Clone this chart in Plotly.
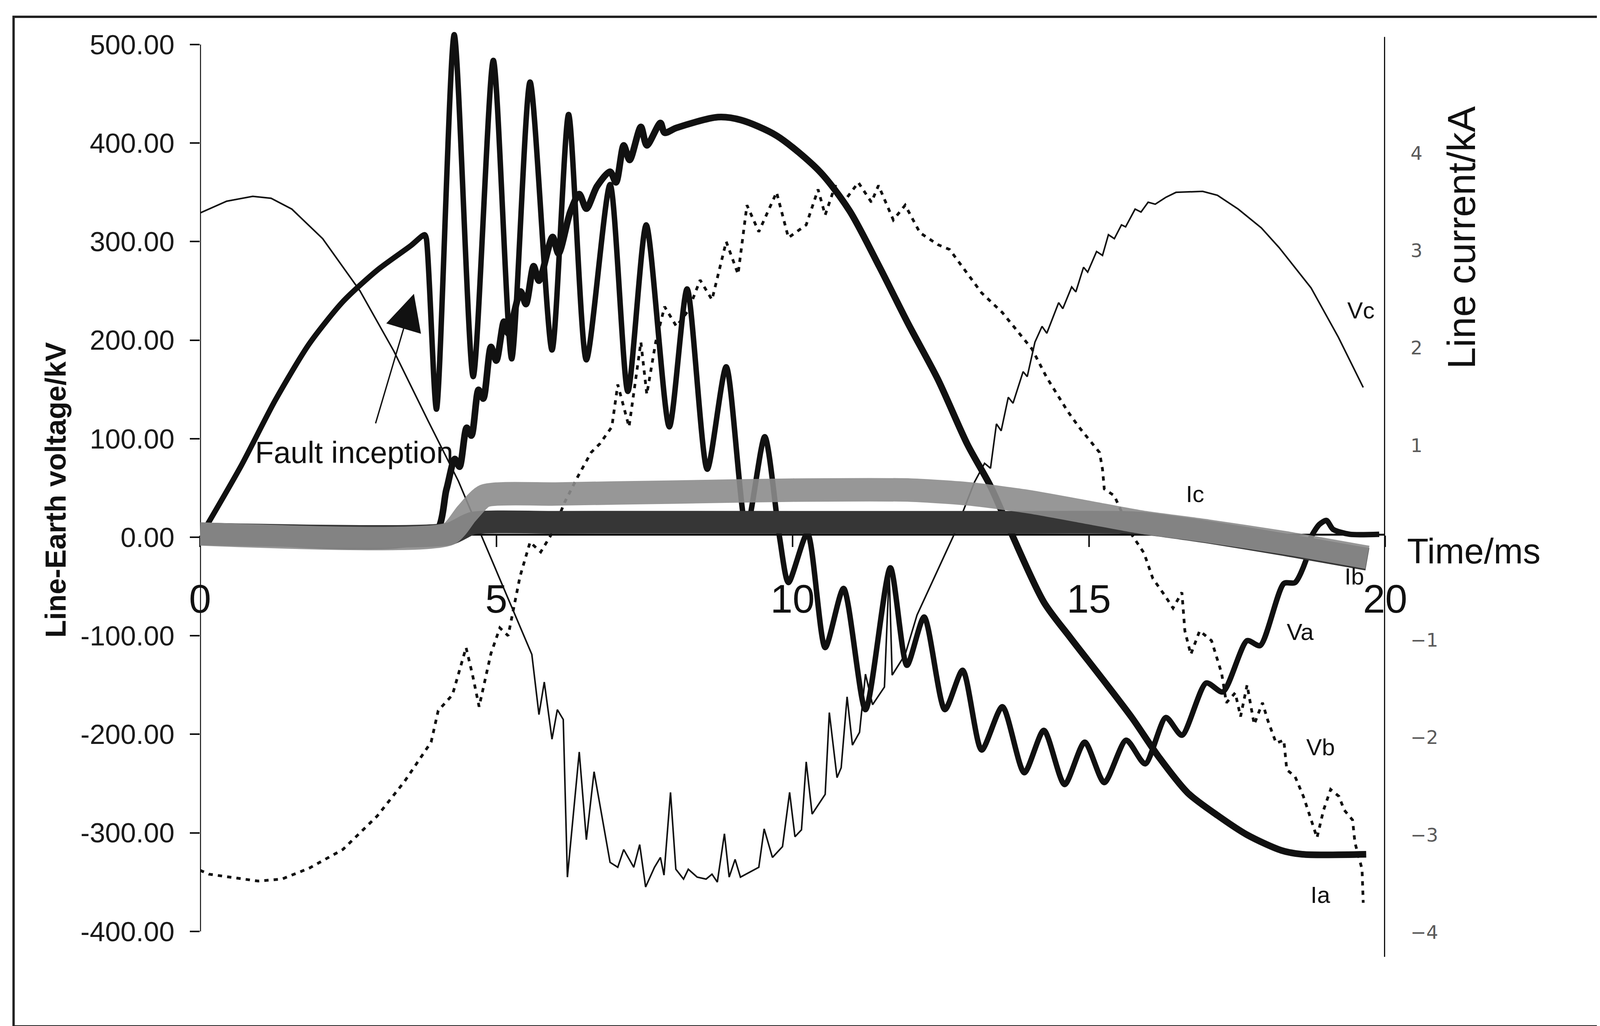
import plotly.graph_objects as go

# ---------------- data ----------------
# time in ms, voltages in kV (left axis), currents in kA (right axis)
t_va = [0.0, 0.69, 1.27, 1.84, 2.41, 2.99, 3.56, 3.79, 3.82, 3.99, 4.29, 4.61, 4.95, 5.26,
        5.57, 5.94, 6.22, 6.52, 6.92, 7.22, 7.53, 7.92, 8.22, 8.56, 8.88, 9.22, 9.53, 9.78,
        9.93, 10.25, 10.55, 10.86, 11.23, 11.65, 11.93, 12.22, 12.57, 12.87, 13.19, 13.54,
        13.91, 14.24, 14.59, 14.93, 15.26, 15.63, 15.95, 16.30, 16.57, 16.98, 17.26, 17.67,
        17.89, 18.29, 18.48, 18.66, 18.75, 18.89, 19.01, 19.12, 19.40, 19.90]
va = [0, 72, 139, 196, 239, 271, 296, 307, 303, 130, 510, 163, 484, 181,
      462, 190, 429, 180, 358, 148, 317, 112, 252, 69, 173, 8, 102, 0,
      -46, 4, -112, -52, -175, -31, -130, -81, -175, -135, -216, -172,
      -239, -196, -251, -208, -249, -206, -230, -183, -201, -148, -157, -105,
      -110, -47, -46, -24, 0, 13, 17, 8, 3, 3]

t_vb = [0.0, 0.15, 0.98, 1.38, 1.84, 2.41, 2.99, 3.27, 3.45, 3.90, 4.02, 4.26, 4.49, 4.60,
        4.71, 4.91, 5.06, 5.20, 5.40, 5.57, 5.75, 5.95, 6.15, 6.38, 6.60, 6.75, 6.95, 7.05,
        7.24, 7.44, 7.54, 7.69, 7.84, 8.04, 8.24, 8.44, 8.64, 8.88, 9.08, 9.23, 9.43, 9.73,
        9.93, 10.23, 10.43, 10.55, 10.72, 10.86, 11.11, 11.33, 11.45, 11.70, 11.90, 12.15,
        12.45, 12.65, 12.85, 13.19, 13.54, 14.04, 14.29, 14.64, 14.83, 15.18, 15.23, 15.26,
        15.43, 15.73, 15.93, 16.08, 16.28, 16.42, 16.57, 16.62, 16.72, 16.87, 17.07, 17.24,
        17.32, 17.47, 17.56, 17.67, 17.79, 17.93, 18.02, 18.16, 18.29, 18.34, 18.48, 18.62,
        18.73, 18.85, 18.96, 19.08, 19.22, 19.31, 19.45, 19.49, 19.61, 19.63]
vb = [-338, -342, -349, -347, -336, -317, -283, -262, -248, -208, -176, -160, -112, -140,
      -172, -118, -92, -100, -40, -5, -15, 5, 35, 62, 86, 95, 112, 155,
      112, 198, 145, 198, 234, 214, 230, 261, 241, 300, 267, 337, 310, 350,
      304, 317, 353, 327, 357, 340, 360, 340, 357, 322, 337, 309,
      297, 292, 276, 248, 228, 191, 162, 128, 112, 86, 69, 49,
      42, 2, -16, -42, -59, -72, -56, -95, -119, -95, -105, -138,
      -168, -158, -182, -150, -190, -168, -186, -209, -206, -236, -243, -263,
      -283, -305, -277, -256, -263, -277, -287, -310, -337, -371]

t_vc = [0.0, 0.45, 0.89, 1.20, 1.55, 2.07, 2.70, 3.27, 3.85, 4.36, 4.76, 5.60, 5.72, 5.81,
        5.94, 6.03, 6.13, 6.20, 6.40, 6.52, 6.65, 6.92, 7.05, 7.15, 7.32, 7.42, 7.52, 7.67,
        7.77, 7.83, 7.94, 8.03, 8.16, 8.24, 8.39, 8.54, 8.64, 8.73, 8.85, 8.93, 9.03, 9.12,
        9.43, 9.52, 9.66, 9.83, 9.95, 10.04, 10.15, 10.23, 10.33, 10.55, 10.62, 10.75, 10.82,
        10.92, 11.01, 11.13, 11.23, 11.35, 11.55, 11.63, 11.68, 11.90, 12.10, 12.40, 12.72,
        13.07, 13.24, 13.34, 13.44, 13.52, 13.64, 13.72, 13.89, 13.96, 14.09, 14.21, 14.29,
        14.49, 14.56, 14.71, 14.78, 14.91, 14.98, 15.13, 15.23, 15.33, 15.43, 15.55, 15.62,
        15.78, 15.88, 16.00, 16.12, 16.30, 16.47, 16.92, 17.17, 17.52, 17.91, 18.21, 18.75,
        19.21, 19.63]
vc = [329, 341, 346, 344, 333, 303, 250, 189, 118, 57, 0, -119, -180, -147,
      -205, -175, -185, -345, -218, -307, -238, -330, -335, -317, -335, -312, -355, -335,
      -325, -343, -259, -337, -347, -337, -345, -347, -342, -350, -301, -345, -327, -345,
      -335, -296, -325, -314, -259, -304, -297, -228, -281, -261, -178, -244, -234,
      -162, -211, -198, -139, -170, -152, -35, -140, -119, -79, -40, 2,
      56, 75, 70, 115, 108, 142, 136, 168, 163, 198, 214, 207,
      238, 232, 254, 249, 274, 269, 290, 286, 307, 303, 317, 315,
      333, 330, 340, 338, 345, 350, 351, 347, 333, 314, 294, 253,
      203, 152]

t_ia = [0.0, 3.92, 4.16, 4.30, 4.38, 4.50, 4.58, 4.70, 4.78, 4.91, 5.00, 5.13, 5.20, 5.41,
        5.50, 5.63, 5.72, 5.95, 6.05, 6.25, 6.40, 6.52, 6.70, 6.92, 7.02, 7.15, 7.25, 7.44,
        7.54, 7.77, 7.84, 8.04, 8.74, 9.13, 9.73, 10.46, 10.96, 11.46, 11.95, 12.45, 12.95,
        13.34, 13.69, 14.24, 14.68, 15.23, 15.73, 16.18, 16.67, 17.17, 17.67, 18.25, 18.60,
        19.68]
ia = [0.06, 0.06, 0.55, 0.86, 0.78, 1.18, 1.10, 1.57, 1.48, 2.01, 1.87, 2.27, 2.15, 2.58,
      2.45, 2.84, 2.69, 3.14, 2.97, 3.40, 3.58, 3.43, 3.66, 3.81, 3.70, 4.08, 3.93, 4.27,
      4.08, 4.31, 4.21, 4.26, 4.37, 4.34, 4.18, 3.81, 3.41, 2.84, 2.25, 1.68, 1.01,
      0.58, 0.10, -0.61, -0.97, -1.40, -1.80, -2.20, -2.57, -2.80, -3.00, -3.16, -3.20,
      -3.20]

t_ib = [0.0, 4.20, 4.60, 6.00, 10.00, 14.00, 15.50, 15.90, 17.00, 18.30, 19.70]
ib = [0.09, 0.09, 0.20, 0.21, 0.21, 0.21, 0.21, 0.20, 0.11, -0.02, -0.17]

t_ic = [0.0, 4.20, 4.50, 4.80, 6.00, 8.00, 10.00, 12.00, 13.00, 14.00, 15.00, 15.90, 17.00,
        18.30, 19.70]
ic = [0.09, 0.09, 0.30, 0.48, 0.50, 0.52, 0.54, 0.54, 0.50, 0.42, 0.31, 0.21, 0.12,
      0.00, -0.15]

x_tick_vals = [0, 5, 10, 15, 20]
x_tick_text = ["0", "5", "10", "15", "20"]
v_tick_vals = [500, 400, 300, 200, 100, 0, -100, -200, -300, -400]
v_tick_text = ["500.00", "400.00", "300.00", "200.00", "100.00", "0.00",
               "-100.00", "-200.00", "-300.00", "-400.00"]
i_tick_vals = [4, 3, 2, 1, -1, -2, -3, -4]
i_tick_text = ["4", "3", "2", "1", "\u22121", "\u22122", "\u22123", "\u22124"]

curve_labels = ["Vc", "Ic", "Ib", "Va", "Vb", "Ia"]
label_t = [19.59, 16.79, 19.48, 18.57, 18.91, 18.91]
label_v = [230, 44, -40, -96, -213, -363]

# ---------------- figure ----------------
# The page viewport is 4096 px wide, so the layout is laid out for 4096 x 2626
FONT = "Liberation Sans, Arial, Helvetica, sans-serif"
INK = "#111111"

fig = go.Figure()

fig.add_trace(go.Scatter(x=t_va, y=va, mode="lines", name="Va",
                         line=dict(color=INK, width=14, shape="spline", smoothing=0.7),
                         yaxis="y"))
fig.add_trace(go.Scatter(x=t_vc, y=vc, mode="lines", name="Vc",
                         line=dict(color=INK, width=4), yaxis="y"))
fig.add_trace(go.Scatter(x=t_vb, y=vb, mode="lines", name="Vb",
                         line=dict(color=INK, width=7, dash="11px,13px"), yaxis="y"))
fig.add_trace(go.Scatter(x=t_ia, y=ia, mode="lines", name="Ia",
                         line=dict(color=INK, width=17, shape="spline", smoothing=0.8),
                         yaxis="y2"))
fig.add_trace(go.Scatter(x=t_ib, y=ib, mode="lines", name="Ib",
                         line=dict(color="#363636", width=58, shape="spline", smoothing=0.6),
                         yaxis="y2"))
fig.add_trace(go.Scatter(x=t_ic, y=ic, mode="lines", name="Ic",
                         line=dict(color="rgba(140,140,140,0.9)", width=60,
                                   shape="spline", smoothing=0.6),
                         yaxis="y2"))

fig.update_layout(
    width=4096, height=2626,
    paper_bgcolor="white", plot_bgcolor="white",
    showlegend=False,
    margin=dict(l=504, r=558, t=70, b=185, pad=0),
    font=dict(family=FONT, color=INK),
    xaxis=dict(
        range=[0, 20], anchor="free", position=0.4559,
        showgrid=False, zeroline=False,
        showline=True, linecolor=INK, linewidth=5, layer="below traces",
        tickmode="array", tickvals=x_tick_vals, ticktext=x_tick_text,
        ticks="outside", ticklen=29, tickwidth=4, tickcolor=INK,
        tickfont=dict(size=102, family=FONT, color=INK),
        ticklabelstandoff=46,
    ),
    yaxis=dict(
        range=[-425.9, 514.3],
        showgrid=False, zeroline=False, showline=False,
        tickmode="array", tickvals=v_tick_vals, ticktext=v_tick_text,
        ticks="outside", ticklen=25, tickwidth=4, tickcolor=INK,
        tickfont=dict(size=71, family=FONT, color="#1a1a1a"),
        ticklabelstandoff=25,
    ),
    yaxis2=dict(
        range=[-4.253, 5.26], overlaying="y", side="right", anchor="x",
        showgrid=False, zeroline=False, showline=False,
        tickmode="array", tickvals=i_tick_vals, ticktext=i_tick_text,
        ticks="",
        tickfont=dict(size=48, family="DejaVu Sans, sans-serif", color="#5a5a5a"),
        ticklabelstandoff=64,
    ),
)

# axis lines and outer frame
fig.add_shape(type="line", xref="x", yref="y", x0=0, x1=0, y0=-400, y1=500,
              line=dict(color=INK, width=5), layer="below")
fig.add_shape(type="line", xref="x", yref="paper", x0=20, x1=20, y0=0, y1=0.993,
              line=dict(color=INK, width=6), layer="below")
fig.add_shape(type="rect", xref="paper", yref="paper",
              x0=-0.1573, x1=1.19, y0=-0.0751, y1=1.0148,
              line=dict(color="#222222", width=6), fillcolor="rgba(0,0,0,0)")

# axis titles
fig.add_annotation(xref="paper", yref="paper", x=-0.1217, y=0.5042,
                   text="<b>Line-Earth voltage/kV</b>", textangle=-90, showarrow=False,
                   font=dict(size=74, family=FONT, color=INK),
                   xanchor="center", yanchor="middle")
fig.add_annotation(xref="paper", yref="paper", x=1.0644, y=0.7765,
                   text="Line current/kA", textangle=-90, showarrow=False,
                   font=dict(size=100, family=FONT, color=INK),
                   xanchor="center", yanchor="middle")
fig.add_annotation(xref="paper", yref="paper", x=1.0749, y=0.4378,
                   text="Time/ms", showarrow=False,
                   font=dict(size=90, family=FONT, color=INK),
                   xanchor="center", yanchor="middle")

# fault inception note with arrow
fig.add_annotation(xref="x", yref="y", x=2.60, y=86, text="Fault inception",
                   showarrow=False, font=dict(size=78, family=FONT, color=INK),
                   xanchor="center", yanchor="middle")
fig.add_annotation(xref="x", yref="y", x=3.61, y=247, axref="x", ayref="y",
                   ax=2.96, ay=115, text="", showarrow=True,
                   arrowhead=2, arrowsize=5.3, arrowwidth=3.5, arrowcolor=INK)

# curve labels
for name, lt, lv in zip(curve_labels, label_t, label_v):
    fig.add_annotation(xref="x", yref="y", x=lt, y=lv, text=name, showarrow=False,
                       font=dict(size=60, family=FONT, color=INK),
                       xanchor="center", yanchor="middle")

fig.write_html("out.html")
